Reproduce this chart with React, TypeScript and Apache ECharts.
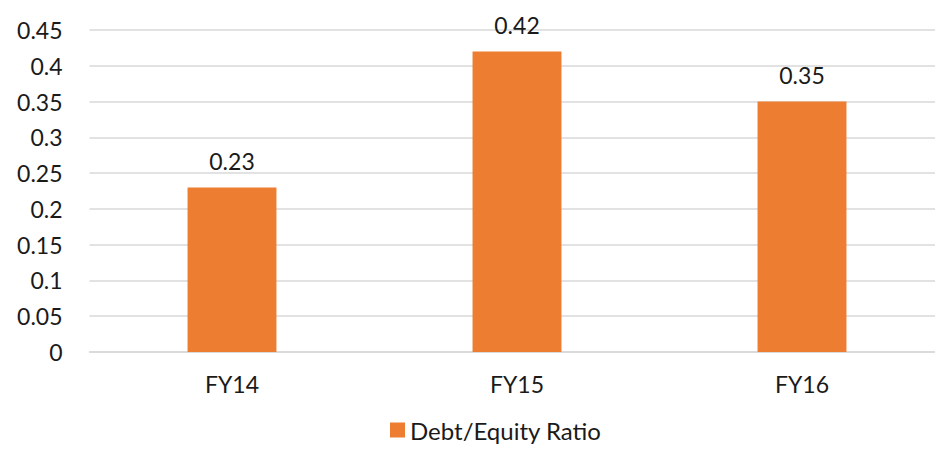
import React, { useEffect, useRef } from "react";
import * as echarts from "echarts";

const categories = ["FY14", "FY15", "FY16"];
const debtEquity = [0.23, 0.42, 0.35];
const seriesName = "Debt/Equity Ratio";

const FONT = "Lato, 'Open Sans', sans-serif";

export default function App() {
  const ref = useRef<HTMLDivElement>(null);
  useEffect(() => {
    if (!ref.current) return;
    const chart = echarts.init(ref.current, null, { renderer: "svg" });
    chart.setOption({
      animation: false,
      textStyle: { fontFamily: FONT },
      grid: {
        left: 89.5,
        width: 855,
        top: 30,
        bottom: 98,
        containLabel: false,
        outerBoundsMode: "none",
      },
      legend: {
        data: [seriesName],
        bottom: 3,
        left: 385,
        itemWidth: 15,
        itemHeight: 15,
        itemGap: 6,
        icon: "rect",
        textStyle: { fontSize: 24, color: "#1a1a1a", fontFamily: FONT },
      },
      xAxis: {
        type: "category",
        data: categories,
        axisLine: { lineStyle: { color: "#d9d9d9", width: 1.5 } },
        axisTick: { show: false },
        axisLabel: { fontSize: 23, color: "#1a1a1a", margin: 20, fontFamily: FONT },
      },
      yAxis: {
        type: "value",
        min: 0,
        max: 0.45,
        interval: 0.05,
        axisLine: { show: false },
        axisTick: { show: false },
        splitLine: { lineStyle: { color: "#d9d9d9", width: 1.5 } },
        axisLabel: {
          fontSize: 23,
          color: "#1a1a1a",
          margin: 27,
          fontFamily: FONT,
          formatter: (v: number) => String(parseFloat(v.toFixed(2))),
        },
      },
      series: [
        {
          name: seriesName,
          type: "bar",
          data: debtEquity,
          barWidth: "31.2%",
          itemStyle: { color: "#ED7D31" },
          label: {
            show: true,
            position: "top",
            distance: 15,
            fontSize: 23,
            color: "#1a1a1a",
            fontFamily: FONT,
          },
        },
      ],
    });
    return () => chart.dispose();
  }, []);
  return (
    <div
      ref={ref}
      style={{ position: "fixed", left: 0, top: 0, width: 935, height: 450, background: "#fff" }}
    />
  );
}
